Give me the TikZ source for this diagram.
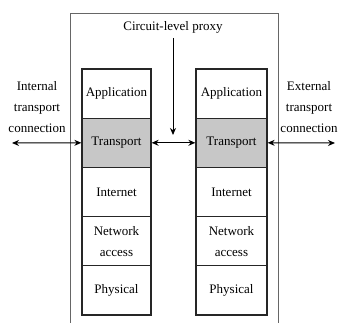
\documentclass[tikz,border=0pt]{standalone}
\usepackage{fontspec}
\setmainfont{Liberation Serif}
\usetikzlibrary{arrows.meta}
\begin{document}
\begin{tikzpicture}[x=1pt,y=-1pt,
  layer/.style={draw=black!85,line width=1.3pt,minimum height=49.2pt,inner sep=0pt,
    align=center,font=\fontsize{13}{21}\selectfont},
  tlayer/.style={layer,fill=black!22},
  lbl/.style={align=center,inner sep=0pt,font=\fontsize{13}{21}\selectfont},
  conn/.style={line width=1pt,{Stealth[length=7pt,width=6pt]}-{Stealth[length=7pt,width=6pt]}}]
\useasboundingbox (0,0) rectangle (342,323);
% proxy enclosure, open at the bottom
\draw[black!60,line width=0.9pt] (70,323) -- (70,13) -- (278,13) -- (278,323);
% left protocol stack
\foreach \n/\t/\y [count=\i] in {la/Application/93.6,lt/Transport/142.8,li/Internet/192,ln/{Network\\access}/241.2,lp/Physical/290.4}{
  \node[layer,minimum width=69pt] (\n) at (116.5,\y) {\t};
}
\node[tlayer,minimum width=69pt] (ltr) at (116.5,142.8) {Transport};
% right protocol stack
\foreach \n/\t/\y in {ra/Application/93.6,rt/Transport/142.8,ri/Internet/192,rn/{Network\\access}/241.2,rp/Physical/290.4}{
  \node[layer,minimum width=71pt] (\n) at (231.5,\y) {\t};
}
\node[tlayer,minimum width=71pt] (rtr) at (231.5,142.8) {Transport};
% labels
\node[lbl] (plab) at (173,27) {Circuit-level proxy};
\node[lbl] (inlab) at (37,107) {Internal\\transport\\connection};
\node[lbl] (exlab) at (309,107) {External\\transport\\connection};
% connectors
\coordinate (lend) at (12,143);
\coordinate (rend) at (335,143);
\coordinate (ptip) at (173,135);
\draw[conn] (lend) -- (ltr.west);
\draw[conn] (ltr.east) -- (rtr.west);
\draw[conn] (rtr.east) -- (rend);
\draw[line width=1pt,-{Stealth[length=7pt,width=6pt]}] (173,38) -- (ptip);
\end{tikzpicture}
\end{document}
